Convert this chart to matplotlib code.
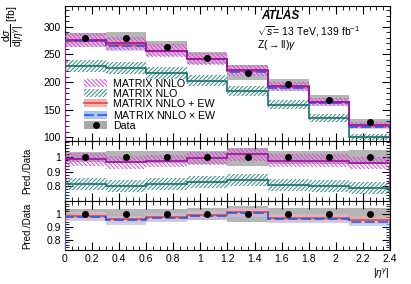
import matplotlib
matplotlib.use("Agg")
import matplotlib.pyplot as plt
from matplotlib.patches import Patch
from matplotlib.lines import Line2D
from matplotlib.ticker import MultipleLocator, FormatStrFormatter
import numpy as np

plt.rcParams.update({
    "font.family": ["Liberation Sans", "DejaVu Sans"],
    "mathtext.fontset": "custom",
    "mathtext.rm": "Liberation Sans",
    "mathtext.it": "Liberation Sans:italic",
    "font.size": 7.5,
    "hatch.linewidth": 0.7,
})

# |eta^gamma| binning
edges = [0.0, 0.3, 0.6, 0.9, 1.2, 1.5, 1.8, 2.1, 2.4]

# measured cross-section [fb] and relative uncertainty
data = [280, 280, 264, 244, 217, 197, 168, 127]
data_err = [0.035, 0.04, 0.04, 0.045, 0.06, 0.045, 0.045, 0.05]

# predictions [fb] and relative uncertainties
nnlo = [276, 270, 257, 242, 221, 192, 164, 122]
nnlo_err = [0.045, 0.045, 0.045, 0.045, 0.045, 0.045, 0.045, 0.045]
nlo = [229, 225, 216, 202, 183, 159, 135, 100]
nlo_err = [0.05, 0.05, 0.05, 0.05, 0.05, 0.05, 0.05, 0.05]
nnlo_plus_ew = [275, 268, 257, 242, 220, 191, 163, 121]
nnlo_plus_ew_err = [0.03, 0.03, 0.03, 0.03, 0.03, 0.03, 0.03, 0.03]
nnlo_times_ew = [274, 266, 256, 241, 219, 190, 162, 119]
nnlo_times_ew_err = [0.035, 0.035, 0.035, 0.035, 0.035, 0.035, 0.035, 0.035]

C_NNLO_H = "#dd44dd"
C_NNLO_L = "#a0109f"
C_NLO_H = "#2e8b82"
C_NLO_L = "#1d6f6a"
C_RED_B = "#f5b0b0"
C_RED_L = "#e04848"
C_BLU_B = "#adc3f5"
C_BLU_L = "#1f5fe8"
C_GRAY = "#a8a8a8"

H_NNLO = "\\" * 8
H_NLO = "/" * 8

edges = np.array(edges)
centers = 0.5 * (edges[:-1] + edges[1:])
width = np.diff(edges)
data = np.array(data, float)


def band(ax, val, rel, scale=1.0, hatch=None, color="none", ec="none",
         alpha=1.0, z=1):
    val = np.array(val, float) / scale
    rel = np.array(rel, float)
    lo, hi = val * (1 - rel), val * (1 + rel)
    if hatch:
        ax.bar(centers, hi - lo, bottom=lo, width=width, facecolor="none",
               edgecolor=ec, hatch=hatch, linewidth=0, zorder=z)
    else:
        ax.bar(centers, hi - lo, bottom=lo, width=width, color=color,
               linewidth=0, alpha=alpha, zorder=z)


def line(ax, val, scale=1.0, color="k", ls="-", z=4):
    ax.stairs(np.array(val, float) / scale, edges, color=color,
              linestyle=ls, linewidth=1.2, zorder=z)


def style(ax):
    ax.set_xlim(0, 2.4)
    ax.tick_params(which="both", direction="in", top=True, right=True,
                   labelsize=7.5, pad=3)
    ax.tick_params(which="major", length=6, width=0.8)
    ax.tick_params(which="minor", length=3, width=0.6)
    ax.xaxis.set_major_locator(MultipleLocator(0.2))
    ax.xaxis.set_minor_locator(MultipleLocator(0.05))
    ax.xaxis.set_major_formatter(FormatStrFormatter("%g"))
    for s in ax.spines.values():
        s.set_linewidth(0.8)


fig = plt.figure(figsize=(4.11, 2.84), dpi=100)
ax0 = fig.add_axes([0.158, 0.5035, 0.791, 0.4755])
ax1 = fig.add_axes([0.158, 0.292, 0.791, 0.2115])
ax2 = fig.add_axes([0.158, 0.1197, 0.791, 0.1723])

# ---- main panel ----
band(ax0, data, data_err, color=C_GRAY, alpha=0.85, z=1)
band(ax0, nnlo_times_ew, nnlo_times_ew_err, color=C_BLU_B, alpha=0.7, z=2)
band(ax0, nnlo_plus_ew, nnlo_plus_ew_err, color=C_RED_B, alpha=0.6, z=2)
band(ax0, nnlo, nnlo_err, hatch=H_NNLO, ec=C_NNLO_H, z=3)
band(ax0, nlo, nlo_err, hatch=H_NLO, ec=C_NLO_H, z=3)
line(ax0, nlo, color=C_NLO_L)
line(ax0, nnlo_plus_ew, color=C_RED_L)
line(ax0, nnlo_times_ew, color=C_BLU_L, ls=(0, (6, 2)))
line(ax0, nnlo, color=C_NNLO_L)
ax0.plot(centers, data, "o", color="black", markersize=4, zorder=6)

style(ax0)
ax0.set_ylim(93, 338)
ax0.yaxis.set_major_locator(MultipleLocator(50))
ax0.yaxis.set_minor_locator(MultipleLocator(10))
ax0.tick_params(labelbottom=False)
ax0.set_ylabel(r"$\dfrac{\mathrm{d}\sigma}{\mathrm{d}|\eta^{\gamma}|}$ [fb]",
               fontsize=7.5)
ax0.yaxis.set_label_coords(-0.12, 0.85)

ax0.text(0.605, 0.9, "ATLAS", transform=ax0.transAxes, fontsize=8.5,
         fontweight="bold", fontstyle="italic")
ax0.text(0.59, 0.78, r"$\sqrt{s}$= 13 TeV, 139 fb$^{-1}$",
         transform=ax0.transAxes, fontsize=7.5)
ax0.text(0.59, 0.69, r"Z($\rightarrow$ll)$\gamma$", transform=ax0.transAxes,
         fontsize=7.5)

handles = [
    Patch(facecolor="none", edgecolor=C_NNLO_H, hatch=H_NNLO, linewidth=0),
    Patch(facecolor="none", edgecolor=C_NLO_H, hatch=H_NLO, linewidth=0),
    (Patch(facecolor=C_RED_B, linewidth=0),
     Line2D([], [], color=C_RED_L, lw=1.2)),
    (Patch(facecolor=C_BLU_B, linewidth=0),
     Line2D([], [], color=C_BLU_L, lw=1.2, ls=(0, (6, 2)))),
    (Patch(facecolor=C_GRAY, linewidth=0),
     Line2D([], [], color="black", marker="o", markersize=4, ls="none")),
]
labels = ["MATRIX NNLO", "MATRIX NLO", "MATRIX NNLO + EW",
          r"MATRIX NNLO $\times$ EW", "Data"]
ax0.legend(handles, labels, loc="lower left", bbox_to_anchor=(0.035, 0.02),
           frameon=False, fontsize=7.7, handlelength=2.2, handleheight=0.75,
           labelspacing=0.0, handletextpad=0.5, borderpad=0.2)

# ---- ratio panel 1: NNLO, NLO ----
ones = np.ones(len(data))
band(ax1, ones, data_err, color=C_GRAY, alpha=0.85, z=1)
band(ax1, nnlo, nnlo_err, scale=data, hatch=H_NNLO, ec=C_NNLO_H, z=3)
band(ax1, nlo, nlo_err, scale=data, hatch=H_NLO, ec=C_NLO_H, z=3)
line(ax1, nnlo, scale=data, color=C_NNLO_L)
line(ax1, nlo, scale=data, color=C_NLO_L)
ax1.plot(centers, ones, "o", color="black", markersize=4, zorder=6)
style(ax1)
ax1.set_ylim(0.7, 1.11)
ax1.yaxis.set_minor_locator(MultipleLocator(0.02))
ax1.set_yticks([0.8, 0.9, 1.0])
ax1.yaxis.set_major_formatter(FormatStrFormatter("%g"))
ax1.tick_params(labelbottom=False)
ax1.set_ylabel("Pred./Data", fontsize=7)
ax1.yaxis.set_label_coords(-0.1, 0.5)

# ---- ratio panel 2: NNLO+EW, NNLOxEW ----
band(ax2, ones, data_err, color=C_GRAY, alpha=0.85, z=1)
band(ax2, nnlo_times_ew, nnlo_times_ew_err, scale=data, color=C_BLU_B,
     alpha=0.7, z=2)
band(ax2, nnlo_plus_ew, nnlo_plus_ew_err, scale=data, color=C_RED_B,
     alpha=0.5, z=2)
line(ax2, nnlo_plus_ew, scale=data, color=C_RED_L)
line(ax2, nnlo_times_ew, scale=data, color=C_BLU_L, ls=(0, (6, 2)))
ax2.plot(centers, ones, "o", color="black", markersize=4, zorder=6)
style(ax2)
ax2.set_ylim(0.72, 1.1)
ax2.yaxis.set_minor_locator(MultipleLocator(0.02))
ax2.set_yticks([0.8, 0.9, 1.0])
ax2.yaxis.set_major_formatter(FormatStrFormatter("%g"))
ax2.set_ylabel("Pred./Data", fontsize=7)
ax2.yaxis.set_label_coords(-0.1, 0.5)
ax2.set_xlabel(r"$|\eta^{\gamma}|$", fontsize=7.5, loc="right", labelpad=2)

fig.savefig("out.png", dpi=100)
